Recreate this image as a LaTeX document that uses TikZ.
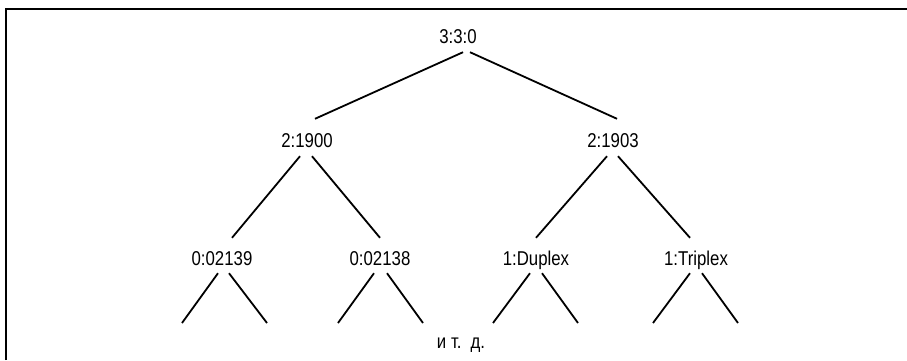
\documentclass[tikz,border=0pt]{standalone}
\usepackage{fontspec}
\setmainfont[FakeStretch=0.84]{Liberation Sans}
\usetikzlibrary{calc}
\begin{document}
\begin{tikzpicture}[x=1pt,y=1pt,
  lbl/.style={inner sep=0pt, anchor=base, text height=14.4pt, text depth=0pt,
    font=\fontsize{20}{23}\selectfont},
  edge/.style={line width=1.8pt},
  frame/.style={line width=1.6pt}]
\useasboundingbox (0,0) rectangle (907,360);
\draw[frame] (6,0) -- (6,351) -- (907,351);
% nodes
\node[lbl] (root) at (458,317) {3:3:0};
\node[lbl] (a) at (307,213) {2:1900};
\node[lbl] (b) at (613,213) {2:1903};
\node[lbl] (c) at (222,95) {0:02139};
\node[lbl] (d) at (380,95) {0:02138};
\node[lbl] (e) at (536,95) {1:Duplex};
\node[lbl] (f) at (696,95) {1:Triplex};
\node[inner sep=0pt, anchor=base, font=\fontsize{20}{23}\selectfont] (etc) at (461,12) {и т.\hspace{0.45em}д.};
% level 1
\draw[edge] ($(root.south)+(5,-9)$) -- ($(a.north)+(8,13.6)$);
\draw[edge] ($(root.south)+(12,-9)$) -- ($(b.north)+(4,13.6)$);
% level 2
\draw[edge] ($(a.south)+(-7,-9)$) -- ($(c.north)+(10,12.6)$);
\draw[edge] ($(a.south)+(5,-9)$) -- ($(d.north)+(0,12.6)$);
\draw[edge] ($(b.south)+(-6,-9)$) -- ($(e.north)+(0,12.6)$);
\draw[edge] ($(b.south)+(5,-9)$) -- ($(f.north)+(-6,12.6)$);
% leaves (free ends)
\coordinate (c1) at (182,37); \coordinate (c2) at (267,37);
\coordinate (d1) at (338,37); \coordinate (d2) at (423,37);
\coordinate (e1) at (493,37); \coordinate (e2) at (578,37);
\coordinate (f1) at (653,37); \coordinate (f2) at (738,37);
\draw[edge] ($(c.south)+(-4,-8)$) -- (c1);
\draw[edge] ($(c.south)+(7,-8)$) -- (c2);
\draw[edge] ($(d.south)+(-6,-8)$) -- (d1);
\draw[edge] ($(d.south)+(7,-8)$) -- (d2);
\draw[edge] ($(e.south)+(-6,-8)$) -- (e1);
\draw[edge] ($(e.south)+(6,-8)$) -- (e2);
\draw[edge] ($(f.south)+(-6,-8)$) -- (f1);
\draw[edge] ($(f.south)+(6,-8)$) -- (f2);
\end{tikzpicture}
\end{document}
